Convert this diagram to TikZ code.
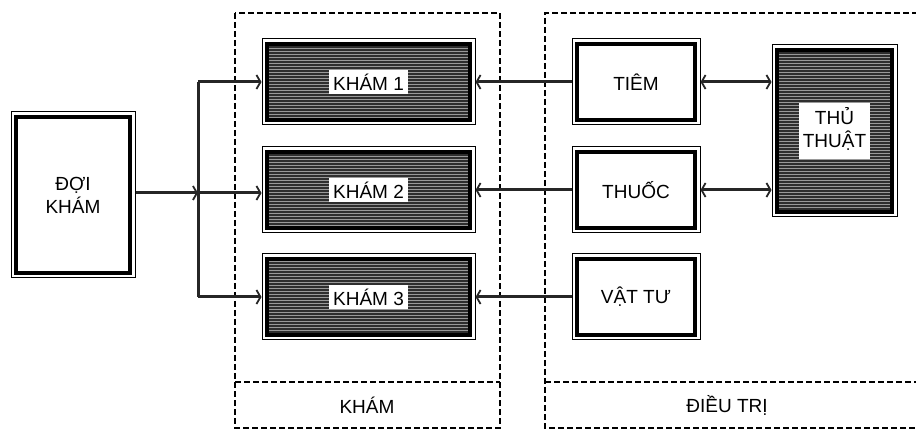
\documentclass[tikz,border=0pt]{standalone}
\usepackage{fontspec}
\setmainfont{Liberation Sans}
\usetikzlibrary{arrows.meta,patterns}

\tikzset{
	box/.style={draw, line width=1pt, fill=white, align=center,
		minimum width=#1, minimum height=86pt,
		path picture={\draw[line width=3.4pt]
			([shift={(5pt,-5pt)}]path picture bounding box.north west) rectangle
			([shift={(-5pt,5pt)}]path picture bounding box.south east);}},
	box/.default=128pt,
	darkbox/.style={draw, line width=1pt, fill=white, align=center,
		minimum width=#1, minimum height=86pt,
		path picture={
			\fill[black!82]
			([shift={(5pt,-5pt)}]path picture bounding box.north west) rectangle
			([shift={(-5pt,5pt)}]path picture bounding box.south east);
			\fill[pattern=horizontal lines, pattern color=white!60!black]
			([shift={(7pt,-7pt)}]path picture bounding box.north west) rectangle
			([shift={(-7pt,7pt)}]path picture bounding box.south east);
			\draw[line width=3.4pt]
			([shift={(5pt,-5pt)}]path picture bounding box.north west) rectangle
			([shift={(-5pt,5pt)}]path picture bounding box.south east);}},
	darkbox/.default=213pt,
	line/.style={line width=3pt, black!85},
	conn/.style={line, ->},
	biconn/.style={line, <->},
	frame/.style={line width=1.3pt, dash pattern=on 6pt off 3pt},
}

\newcommand{\lbl}[1]{\setlength{\fboxsep}{4pt}\colorbox{white}{#1}}

\begin{document}
\begin{tikzpicture}[x=1pt, y=-1pt, font=\fontsize{19}{23}\selectfont,
	>={Straight Barb[length=4pt,width=14pt,line width=1.8pt]}]
	
	% ------------------------------------------------------------
	% Positionen
	% ------------------------------------------------------------
	
	\def\rowa{82}
	\def\rowb{190}
	\def\rowc{297}
	
	\def\xkham{368.5}
	\def\xtri{636}
	
	\useasboundingbox (0,0) rectangle (916,430);
	
	% ------------------------------------------------------------
	% Frames
	% ------------------------------------------------------------
	
	\draw[frame] (235,13) rectangle (500,428);
	\draw[frame] (235,382) -- (500,382);
	\node (khamlbl) at (367,405) {KHÁM};
	
	\draw[frame] (918,13) -- (545,13) -- (545,428) -- (918,428);
	\draw[frame] (545,382) -- (918,382);
	\node (trilbl) at (727,405) {ĐIỀU TRỊ};
	
	% ------------------------------------------------------------
	% Boxes
	% ------------------------------------------------------------
	
	\node[box=124pt, minimum height=166pt] (doi) at (73,195)
	{ĐỢI\\KHÁM};
	
	\node[darkbox] (kham1) at (\xkham,\rowa) {\lbl{KHÁM 1}};
	\node[darkbox] (kham2) at (\xkham,\rowb) {\lbl{KHÁM 2}};
	\node[darkbox] (kham3) at (\xkham,\rowc) {\lbl{KHÁM 3}};
	
	\node[box] (tiem)  at (\xtri,\rowa) {TIÊM};
	\node[box] (thuoc) at (\xtri,\rowb) {THUỐC};
	\node[box] (vattu) at (\xtri,\rowc) {VẬT TƯ};
	
	\node[darkbox=125pt, minimum height=172pt] (thuthuat) at (834.5,131)
	{\lbl{\begin{tabular}{@{}c@{}}THỦ\\THUẬT\end{tabular}}};
	
	% ------------------------------------------------------------
	% Connecting lines
	% ------------------------------------------------------------
	
	\coordinate (split) at (198,193);
	
	\draw[conn] (doi.east |- split) -- (split);
	\draw[line] (split |- kham1.west) -- (split |- kham3.west);
	\draw[conn] (split |- kham1.west) -- (kham1.west);
	\draw[conn] (split) -- (split -| kham2.west);
	\draw[conn] (split |- kham3.west) -- (kham3.west);
	
	\draw[conn] (tiem.west)  -- (kham1.east);
	\draw[conn] (thuoc.west) -- (kham2.east);
	\draw[conn] (vattu.west) -- (kham3.east);
	
	\draw[biconn] (tiem.east)  -- (tiem.east -| thuthuat.west);
	\draw[biconn] (thuoc.east) -- (thuoc.east -| thuthuat.west);
\end{tikzpicture}
\end{document}
